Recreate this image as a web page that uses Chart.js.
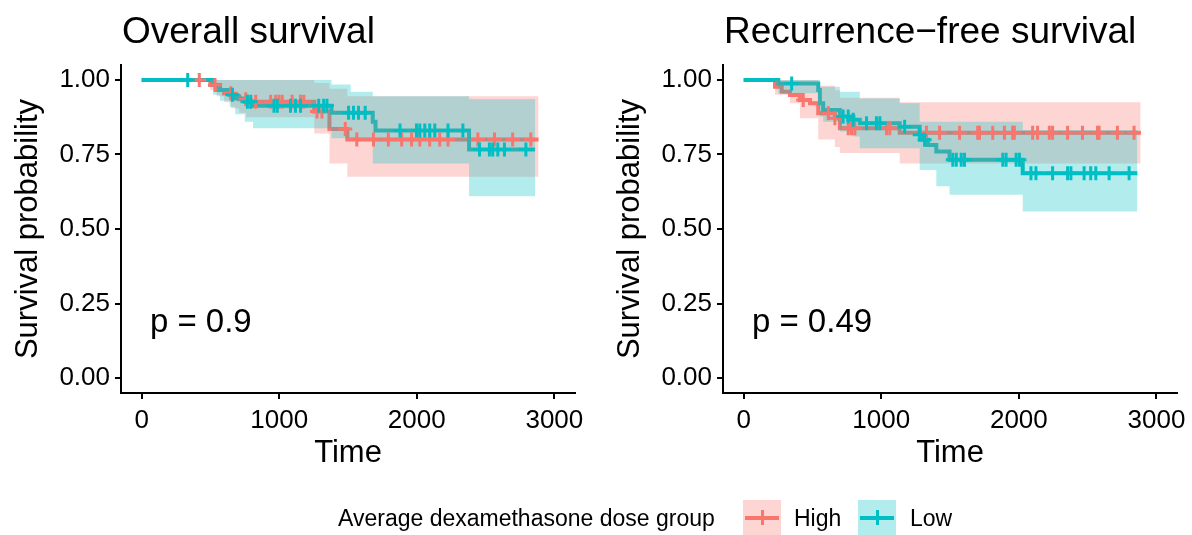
<!DOCTYPE html>
<html lang="en">
<head>
    <meta charset="UTF-8">
    <title>Survival by dexamethasone dose group</title>
    <script src="https://cdn.jsdelivr.net/npm/chart.js"></script>
    <style>
        html, body { margin: 0; padding: 0; background: #fff; }
        body { width: 1192px; height: 535px; position: relative; overflow: hidden;
               font-family: "Liberation Sans", Arial, sans-serif; color: #000; }
        canvas { position: absolute; top: 0; }
        #osChart { left: 0; }
        #rfsChart { left: 602px; }
        .lg { position: absolute; top: 507px; font-size: 23px; line-height: 23px; white-space: nowrap; }
        .key { position: absolute; top: 500px; width: 38px; height: 38px; }
        .key .ln { position: absolute; left: 2px; top: 16px; width: 34px; height: 4px; }
        .key .tk { position: absolute; left: 17.5px; top: 10px; width: 3px; height: 15px; }
    </style>
</head>
<body>
    <canvas id="osChart" width="590" height="535"></canvas>
    <canvas id="rfsChart" width="590" height="535"></canvas>

    <!-- legend -->
    <div class="lg" style="left:338px">Average dexamethasone dose group</div>
    <div class="key" style="left:743px; background: rgba(248,118,109,0.3)">
        <div class="ln" style="background:#F8766D"></div><div class="tk" style="background:#F8766D"></div>
    </div>
    <div class="lg" style="left:794px">High</div>
    <div class="key" style="left:858px; background: rgba(0,191,196,0.3)">
        <div class="ln" style="background:#00BFC4"></div><div class="tk" style="background:#00BFC4"></div>
    </div>
    <div class="lg" style="left:910px">Low</div>

    <script>
        // axis ticks
        const timeTicks = [0, 1000, 2000, 3000];
        const survTicks = [0, 0.25, 0.5, 0.75, 1];

        // Overall survival - High dose
        const osHighTime  = [0, 500, 545, 600, 650, 710, 760, 1255, 1365, 1495, 2885];
        const osHighSurv  = [1, 0.983, 0.966, 0.955, 0.945, 0.935, 0.927, 0.894, 0.835, 0.80, 0.80];
        const osHighUpper = [1, 1, 1, 1, 1, 1, 1, 0.99, 0.97, 0.945, 0.945];
        const osHighLower = [1, 0.965, 0.945, 0.925, 0.905, 0.89, 0.875, 0.82, 0.72, 0.675, 0.675];
        const osHighCensor = [419, 533, 648, 757, 829, 938, 974, 998, 1022, 1094, 1155, 1179, 1275, 1311,
                              1480, 1564, 1685, 1793, 1890, 1962, 2022, 2094, 2167, 2227, 2444, 2565, 2697, 2829];

        // Overall survival - Low dose
        const osLowTime  = [0, 520, 570, 640, 680, 750, 810, 1380, 1520, 1680, 1700, 2380, 2860];
        const osLowSurv  = [1, 0.983, 0.966, 0.95, 0.938, 0.927, 0.913, 0.89, 0.89, 0.86, 0.83, 0.767, 0.767];
        const osLowUpper = [1, 1, 1, 1, 1, 1, 1, 0.985, 0.96, 0.945, 0.945, 0.935, 0.935];
        const osLowLower = [1, 0.95, 0.93, 0.91, 0.885, 0.86, 0.838, 0.804, 0.804, 0.72, 0.72, 0.61, 0.61];
        const osLowCensor = [335, 660, 769, 793, 962, 986, 1082, 1118, 1155, 1287, 1323, 1347, 1504, 1540,
                             1576, 1625, 1878, 1998, 2022, 2058, 2094, 2131, 2227, 2335, 2456, 2528, 2552,
                             2589, 2637, 2793];

        // Recurrence-free survival - High dose
        const rfsHighTime  = [0, 228, 277, 337, 409, 482, 542, 663, 699, 1134, 2885];
        const rfsHighSurv  = [1, 0.977, 0.96, 0.949, 0.933, 0.922, 0.888, 0.871, 0.838, 0.823, 0.823];
        const rfsHighUpper = [1, 1, 1, 1, 1, 1, 0.98, 0.965, 0.94, 0.925, 0.925];
        const rfsHighLower = [1, 0.95, 0.95, 0.922, 0.871, 0.871, 0.80, 0.775, 0.755, 0.72, 0.72];
        const rfsHighCensor = [433, 615, 663, 760, 784, 808, 1038, 1062, 1328, 1424, 1569, 1701, 1714, 1810,
                               1895, 1955, 1967, 2100, 2136, 2221, 2245, 2354, 2462, 2571, 2583, 2716, 2837];

        // Recurrence-free survival - Low dose
        const rfsLowTime  = [0, 252, 542, 554, 578, 699, 796, 844, 1134, 1279, 1303, 1339, 1400, 1496, 2028, 2861];
        const rfsLowSurv  = [1, 0.988, 0.966, 0.922, 0.899, 0.877, 0.866, 0.855, 0.843, 0.816, 0.799, 0.782,
                             0.76, 0.732, 0.687, 0.687];
        const rfsLowUpper = [1, 1, 1, 0.977, 0.977, 0.96, 0.96, 0.938, 0.922, 0.86, 0.86, 0.86, 0.86, 0.86,
                             0.832, 0.832];
        const rfsLowLower = [1, 0.955, 0.94, 0.877, 0.86, 0.827, 0.81, 0.771, 0.771, 0.698, 0.698, 0.698,
                             0.643, 0.615, 0.559, 0.559];
        const rfsLowCensor = [349, 723, 760, 796, 893, 965, 990, 1170, 1279, 1315, 1520, 1545, 1581, 1605,
                              1883, 1907, 1980, 2004, 2088, 2124, 2245, 2354, 2378, 2474, 2522, 2559, 2656, 2801];

        const RED = '#F8766D', RED_BAND = 'rgba(248,118,109,0.3)';
        const TEAL = '#00BFC4', TEAL_BAND = 'rgba(0,191,196,0.3)';
        const FONT = '"Liberation Sans", Arial, sans-serif';

        // survival value of a step curve at time t
        function stepAt(time, surv, t) {
            let v = surv[0];
            for (let i = 0; i < time.length; i++) {
                if (time[i] <= t) v = surv[i];
            }
            return v;
        }

        function curveSets(time, surv, upper, lower, censor, color, band) {
            const pts = ys => time.map((t, i) => ({ x: t, y: ys[i] }));
            return [
                { data: pts(upper), stepped: true, borderWidth: 0, pointRadius: 0, fill: false, order: 2 },
                { data: pts(lower), stepped: true, borderWidth: 0, pointRadius: 0, fill: '-1',
                  backgroundColor: band, order: 2 },
                { data: pts(surv), stepped: true, borderColor: color, borderWidth: 4, pointRadius: 0,
                  fill: false, order: 3 },
                { type: 'scatter', data: censor.map(t => ({ x: t, y: stepAt(time, surv, t) })),
                  pointStyle: 'cross', pointRadius: 7, pointBorderWidth: 3, borderColor: color,
                  backgroundColor: color, showLine: false, order: 1 }
            ];
        }

        // title and p-value
        const panelText = {
            id: 'panelText',
            afterDraw(chart, args, opts) {
                const { ctx, chartArea, scales } = chart;
                ctx.save();
                ctx.fillStyle = '#000';
                ctx.textBaseline = 'alphabetic';
                ctx.font = '37px ' + FONT;
                ctx.fillText(opts.title, chartArea.left + 1, 43);
                ctx.font = '33px ' + FONT;
                ctx.fillText(opts.pval, scales.x.getPixelForValue(60), scales.y.getPixelForValue(0.155));
                ctx.restore();
            }
        };

        function makeChart(id, datasets, title, pval, padRight) {
            return new Chart(document.getElementById(id), {
                type: 'line',
                data: { datasets: datasets },
                options: {
                    responsive: false,
                    animation: false,
                    devicePixelRatio: 1,
                    events: [],
                    layout: { padding: { top: 65, right: padRight, bottom: 0, left: 0 } },
                    plugins: {
                        legend: { display: false },
                        tooltip: { enabled: false },
                        panelText: { title: title, pval: pval }
                    },
                    scales: {
                        x: {
                            type: 'linear', min: -150, max: 3150,
                            afterBuildTicks: s => { s.ticks = timeTicks.map(v => ({ value: v })); },
                            afterFit: s => { s.height = 142; },
                            ticks: { color: '#000', font: { family: FONT, size: 26 }, padding: 6,
                                     callback: v => String(v) },
                            grid: { drawOnChartArea: false, tickLength: 6, color: '#000', lineWidth: 2 },
                            border: { display: true, color: '#000', width: 2 },
                            title: { display: true, text: 'Time', color: '#000',
                                     font: { family: FONT, size: 31 }, padding: { top: 0, bottom: 63 } }
                        },
                        y: {
                            type: 'linear', min: -0.05, max: 1.05,
                            afterBuildTicks: s => { s.ticks = survTicks.map(v => ({ value: v })); },
                            afterFit: s => { s.width = 121; },
                            ticks: { color: '#000', font: { family: FONT, size: 26 }, padding: 5,
                                     callback: v => v.toFixed(2) },
                            grid: { drawOnChartArea: false, tickLength: 6, color: '#000', lineWidth: 2 },
                            border: { display: true, color: '#000', width: 2 },
                            title: { display: true, text: 'Survival probability', color: '#000',
                                     font: { family: FONT, size: 31 }, padding: { top: 10, bottom: 0 } }
                        }
                    }
                },
                plugins: [panelText]
            });
        }

        makeChart('osChart',
            curveSets(osLowTime, osLowSurv, osLowUpper, osLowLower, osLowCensor, TEAL, TEAL_BAND)
                .concat(curveSets(osHighTime, osHighSurv, osHighUpper, osHighLower, osHighCensor, RED, RED_BAND)),
            'Overall survival', 'p = 0.9', 15);

        makeChart('rfsChart',
            curveSets(rfsLowTime, rfsLowSurv, rfsLowUpper, rfsLowLower, rfsLowCensor, TEAL, TEAL_BAND)
                .concat(curveSets(rfsHighTime, rfsHighSurv, rfsHighUpper, rfsHighLower, rfsHighCensor, RED, RED_BAND)),
            'Recurrence\u2212free survival', 'p = 0.49', 13);
    </script>
</body>
</html>
